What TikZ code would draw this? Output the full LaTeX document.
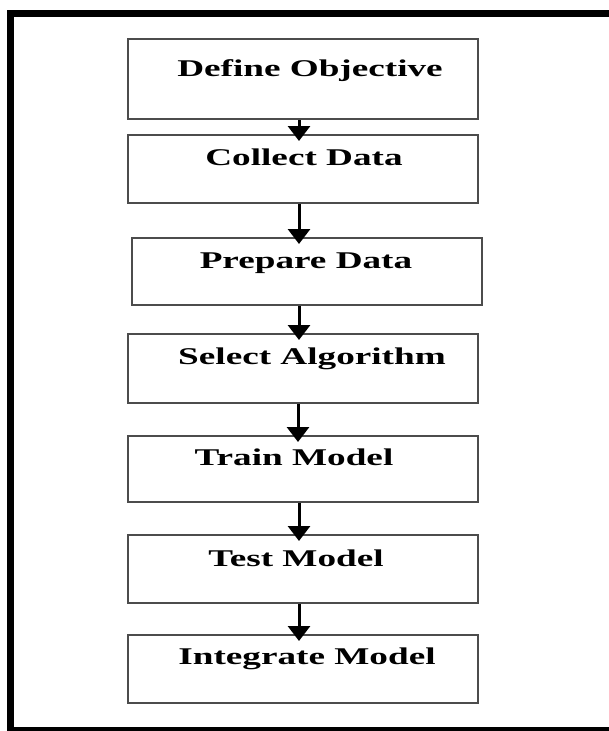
\documentclass[tikz,border=0pt]{standalone}
\usepackage{fontspec}
\setmainfont{Liberation Serif}
\usetikzlibrary{arrows.meta}
\newcommand{\stretched}[1]{\scalebox{1.55}[1]{\bfseries #1}}
\tikzset{
  stepbox/.style={draw=black!70, line width=2pt, minimum width=350pt, minimum height=68pt, inner sep=0pt},
  steptext/.style={anchor=base, inner sep=0pt, font=\fontsize{24}{28}\selectfont},
  flow/.style={line width=3pt, -{Triangle[width=22pt,length=15pt]}},
  frame/.style={line width=7pt, black}
}
\begin{document}
\begin{tikzpicture}[x=1pt,y=-1pt]
\useasboundingbox (0,0) rectangle (608,731);
% outer frame (right side lies outside the picture)
\draw[frame] (640,13) -- (10.5,13) -- (10.5,730) -- (640,730);
% boxes
\node[stepbox, minimum height=80pt] (b1) at (302.5,79) {};
\node[stepbox] (b2) at (303,169) {};
\node[stepbox, minimum height=67pt] (b3) at (307,271.5) {};
\node[stepbox, minimum height=69pt] (b4) at (303,368.5) {};
\node[stepbox, minimum height=66pt] (b5) at (303,469) {};
\node[stepbox] (b6) at (303,569) {};
\node[stepbox] (b7) at (303,669) {};
% labels
\node[steptext] (t1) at (310,76) {\stretched{Define Objective}};
\node[steptext] (t2) at (304,165) {\stretched{Collect Data}};
\node[steptext] (t3) at (306,268) {\stretched{Prepare Data}};
\node[steptext] (t4) at (312,364) {\stretched{Select Algorithm}};
\node[steptext] (t5) at (294,465) {\stretched{Train Model}};
\node[steptext] (t6) at (296,566) {\stretched{Test Model}};
\node[steptext] (t7) at (307,664) {\stretched{Integrate Model}};
% arrows
\draw[flow] (b1.south -| 299,0) -- ([yshift=-7pt]b2.north -| 299,0);
\draw[flow] (b2.south -| 299,0) -- ([yshift=-7pt]b3.north -| 299,0);
\draw[flow] (b3.south -| 299,0) -- ([yshift=-7pt]b4.north -| 299,0);
\draw[flow] (b4.south -| 298,0) -- ([yshift=-7pt]b5.north -| 298,0);
\draw[flow] (b5.south -| 299,0) -- ([yshift=-7pt]b6.north -| 299,0);
\draw[flow] (b6.south -| 299,0) -- ([yshift=-7pt]b7.north -| 299,0);
\end{tikzpicture}
\end{document}
